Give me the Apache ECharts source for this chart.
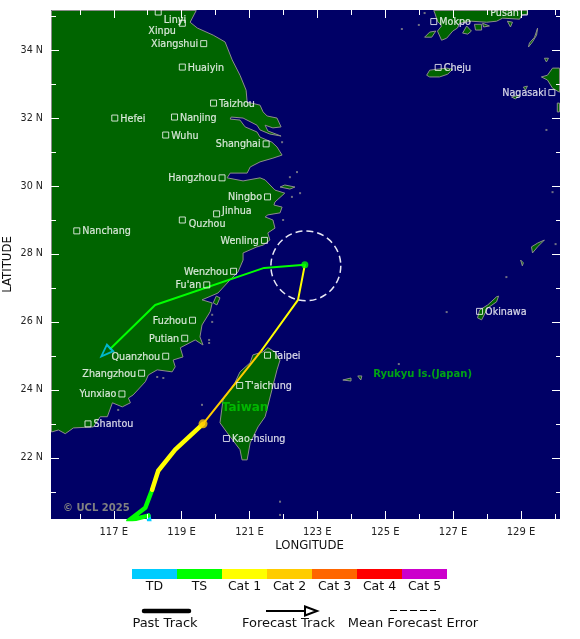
<!DOCTYPE html>
<html>
<head>
<meta charset="utf-8">
<title>Track map</title>
<style>
  html, body { margin: 0; padding: 0; background: #fff; }
  #chart { width: 580px; height: 639px; }
</style>
<script src="https://cdn.jsdelivr.net/npm/echarts@6/dist/echarts.min.js"></script>
</head>
<body>
<div id="chart"></div>
<script>
// axis ticks
const lonTicks = [117, 119, 121, 123, 125, 127, 129];
const lonMinorTicks = [116, 118, 120, 122, 124, 126, 128, 130];
const latTicks = [22, 24, 26, 28, 30, 32, 34];
const latMinorTicks = [21, 23, 25, 27, 29, 31, 33, 35];

// intensity scale
const catNames = ['TD', 'TS', 'Cat 1', 'Cat 2', 'Cat 3', 'Cat 4', 'Cat 5'];
const catColors = ['#00ccff', '#00ff00', '#ffff00', '#ffcc00', '#ff6600', '#ff0000', '#cc00cc'];

// past track, lon/lat, one list per intensity
const pastTD = [[118.07, 20.00], [118.02, 20.30]];
const pastTS = [[118.02, 20.30], [117.43, 20.15], [117.93, 20.53], [118.13, 21.06]];
const pastCat1 = [[118.13, 21.06], [118.31, 21.62], [118.81, 22.24], [119.63, 23.00]];

// forecast track
const fcstCat2 = [[119.63, 23.00], [121.37, 25.18]];
const fcstCat1 = [[121.37, 25.18], [122.43, 26.65], [122.63, 27.68]];
const fcstTS = [[122.63, 27.68], [121.43, 27.59], [118.22, 26.50], [116.90, 25.21]];
const fcstArrow = [116.76, 25.11];
const currentPos = [119.63, 23.00];
const errorPos = [122.63, 27.68];
const errorCircle = [122.66, 27.65, 1.03];

// cities
const cityNames = ['Linyi', 'Xinpu', 'Xiangshui', 'Huaiyin', 'Taizhou', 'Hefei', 'Nanjing', 'Wuhu', 'Shanghai', 'Hangzhou', 'Ningbo', 'Jinhua', 'Quzhou', 'Nanchang', 'Wenling', 'Wenzhou', "Fu'an", 'Fuzhou', 'Putian', 'Quanzhou', 'Zhangzhou', 'Yunxiao', 'Shantou', 'Taipei', "T'aichung", 'Kao-hsiung', 'Mokpo', 'Pusan', 'Cheju', 'Nagasaki', 'Okinawa'];
const cityLons = [118.31, 119.02, 119.65, 119.02, 119.94, 117.03, 118.79, 118.53, 121.49, 120.19, 121.53, 120.03, 119.02, 115.91, 121.44, 120.53, 119.74, 119.32, 119.09, 118.53, 117.82, 117.24, 116.24, 121.53, 120.71, 120.32, 126.43, 129.10, 126.56, 129.91, 127.78];
const cityLats = [35.12, 34.79, 34.19, 33.50, 32.44, 32.00, 32.03, 31.50, 31.24, 30.24, 29.68, 29.18, 29.00, 28.68, 28.40, 27.49, 27.09, 26.05, 25.52, 24.99, 24.49, 23.88, 23.00, 25.02, 24.13, 22.57, 34.84, 35.12, 33.49, 32.75, 26.31];
const citiesLabelledLeft = ['Xinpu', 'Xiangshui', 'Shanghai', 'Hangzhou', 'Ningbo', 'Wenling', 'Wenzhou', "Fu'an", 'Fuzhou', 'Putian', 'Quanzhou', 'Zhangzhou', 'Yunxiao', 'Pusan', 'Nagasaki'];

// coastlines, lon/lat
const mainlandCoast = [[115.165, 35.165], [119.43, 35.165], [119.25, 34.82], [119.46, 34.65], [119.93, 34.44], [120.28, 34.24], [120.49, 33.71], [120.72, 33.26], [120.90, 32.82], [120.93, 32.47], [121.31, 32.38], [121.40, 32.18], [121.52, 32.06], [121.81, 32.00], [121.93, 31.74], [121.69, 31.71], [121.46, 31.79], [121.54, 31.62], [121.93, 31.47], [121.60, 31.53], [121.31, 31.65], [121.22, 31.79], [120.81, 32.00], [120.46, 32.03], [120.43, 31.97], [120.72, 31.94], [120.87, 31.74], [121.22, 31.59], [121.31, 31.44], [121.66, 31.29], [121.81, 31.15], [121.96, 30.91], [121.69, 30.82], [121.31, 30.71], [121.02, 30.56], [120.93, 30.38], [120.43, 30.38], [120.34, 30.24], [120.81, 30.15], [121.31, 30.24], [121.46, 30.18], [121.75, 29.88], [122.04, 29.79], [121.75, 29.53], [121.72, 29.44], [121.96, 29.38], [121.90, 29.21], [121.54, 29.15], [121.46, 29.09], [121.69, 29.00], [121.75, 28.76], [121.54, 28.62], [121.60, 28.41], [121.40, 28.26], [121.22, 28.21], [120.81, 28.03], [120.81, 27.82], [120.66, 27.47], [120.43, 27.24], [120.07, 26.85], [119.60, 26.65], [119.90, 26.56], [119.84, 26.30], [119.60, 25.91], [119.54, 25.56], [119.63, 25.32], [119.40, 25.47], [118.96, 25.24], [119.04, 24.97], [118.75, 24.88], [118.81, 24.68], [118.72, 24.53], [118.28, 24.59], [118.02, 24.44], [117.93, 24.24], [117.57, 23.85], [117.43, 23.76], [117.49, 23.62], [117.25, 23.50], [116.96, 23.62], [116.81, 23.21], [116.60, 23.21], [116.40, 22.91], [115.81, 22.88], [115.57, 22.71], [115.37, 22.82], [115.165, 22.76]];
const taiwanCoast = [[121.54, 25.24], [121.75, 25.12], [121.90, 24.88], [121.81, 24.59], [121.66, 24.00], [121.46, 23.21], [121.25, 22.91], [121.02, 22.44], [120.93, 21.94], [120.78, 21.94], [120.72, 22.24], [120.34, 22.74], [120.13, 23.03], [120.22, 23.71], [120.57, 24.21], [120.72, 24.53], [121.02, 24.80], [121.10, 25.03], [121.40, 25.12]];
const koreaCoast = [[126.43, 35.165], [129.19, 35.165], [129.19, 35.06], [129.02, 35.03], [128.96, 34.91], [128.46, 34.94], [128.28, 34.85], [127.99, 34.82], [127.54, 34.85], [127.19, 34.79], [127.13, 34.65], [126.99, 34.56], [126.81, 34.35], [126.66, 34.29], [126.54, 34.56], [126.66, 34.71], [126.54, 34.85], [126.46, 35.09]];
const jejuCoast = [[126.22, 33.26], [126.31, 33.41], [126.81, 33.47], [126.99, 33.44], [126.84, 33.29], [126.60, 33.21], [126.31, 33.21]];
const kyushuCoast = [[130.135, 33.47], [129.93, 33.47], [129.78, 33.26], [129.60, 33.21], [129.78, 33.12], [129.93, 32.88], [130.135, 32.76]];
const tsushimaCoast = [[129.49, 34.65], [129.40, 34.38], [129.25, 34.21], [129.22, 34.09], [129.34, 34.24], [129.46, 34.44]];
const okinawaCoast = [[127.72, 26.12], [127.78, 26.35], [128.02, 26.50], [128.28, 26.74], [128.34, 26.76], [128.28, 26.59], [128.02, 26.41], [127.84, 26.06]];
const amamiCoast = [[129.31, 28.21], [129.49, 28.32], [129.69, 28.41], [129.49, 28.21], [129.34, 28.03]];
const smallIslands = [
  [[126.16, 34.38], [126.31, 34.53], [126.49, 34.56], [126.37, 34.38]],
  [[127.28, 34.50], [127.40, 34.71], [127.54, 34.56], [127.43, 34.47]],
  [[127.63, 34.76], [127.84, 34.76], [127.84, 34.59], [127.66, 34.59]],
  [[127.87, 34.79], [128.07, 34.71], [127.90, 34.68]],
  [[128.60, 34.85], [128.75, 34.82], [128.69, 34.68]],
  [[129.69, 33.76], [129.81, 33.76], [129.75, 33.65]],
  [[130.07, 32.44], [130.135, 32.44], [130.135, 32.18], [130.07, 32.18]],
  [[129.07, 32.91], [129.19, 32.94], [129.13, 32.82]],
  [[128.72, 32.62], [128.96, 32.68], [128.84, 32.56]],
  [[128.99, 27.82], [129.07, 27.74], [129.04, 27.65]],
  [[123.75, 24.29], [123.99, 24.35], [123.99, 24.26]],
  [[124.19, 24.41], [124.31, 24.41], [124.28, 24.29]],
  [[121.90, 29.97], [122.04, 30.03], [122.34, 29.97], [122.19, 29.91]],
  [[120.02, 26.76], [120.13, 26.71], [120.04, 26.50], [119.93, 26.56]]
];
const islets = [[122.40, 30.41], [122.19, 30.26], [122.49, 29.79], [122.25, 29.68], [121.99, 29.00], [121.96, 31.29], [119.90, 26.21], [119.90, 26.00], [119.81, 25.47], [119.81, 25.38], [117.13, 23.41], [118.28, 24.38], [118.46, 24.35], [119.60, 23.56], [126.81, 26.29], [125.40, 24.76], [128.57, 27.32], [130.02, 28.29], [129.75, 31.65], [129.93, 29.82], [121.90, 20.71], [121.90, 20.32], [126.16, 35.09], [125.99, 34.74], [125.49, 34.62]];

const landRings = [mainlandCoast, taiwanCoast, koreaCoast, jejuCoast, kyushuCoast, tsushimaCoast, okinawaCoast, amamiCoast].concat(smallIslands);

const FONT = '"DejaVu Sans", sans-serif';
const LAND = '#006400';
const SEA = '#000066';
const COAST = '#8c8c8c';

const chart = echarts.init(document.getElementById('chart'), null, { renderer: 'canvas' });

function trackLine(points, colorIndex, width) {
  return {
    type: 'line',
    data: points,
    showSymbol: false,
    symbol: 'none',
    silent: true,
    z: 5,
    lineStyle: { color: catColors[colorIndex], width: width, cap: 'round', join: 'round' }
  };
}

// one axis pair only carries one row of ticks, so each side has two axes
function lonAxis(position, values, length, extra) {
  return Object.assign({
    type: 'value',
    position: position,
    min: 115.15,
    max: 130.15,
    z: 10,
    splitLine: { show: false },
    axisLine: { show: false, onZero: false },
    axisLabel: { show: false },
    axisTick: { show: true, inside: true, length: length, customValues: values, lineStyle: { color: '#fff', width: 1 } }
  }, extra);
}

function latAxis(position, values, length, extra) {
  return Object.assign({
    type: 'value',
    position: position,
    min: 20.2,
    max: 35.18,
    z: 10,
    splitLine: { show: false },
    axisLine: { show: false, onZero: false },
    axisLabel: { show: false },
    axisTick: { show: true, inside: true, length: length, customValues: values, lineStyle: { color: '#fff', width: 1 } }
  }, extra);
}

// colour key and line key under the map
const keyGraphics = [];
catNames.forEach((name, i) => {
  keyGraphics.push({
    type: 'rect',
    shape: { x: 132 + i * 45, y: 569, width: 45, height: 10 },
    style: { fill: catColors[i] }
  });
  keyGraphics.push({
    type: 'text',
    style: { x: 154.5 + i * 45, y: 587, text: name, font: '12.5px ' + FONT, fill: '#111', textAlign: 'center', textVerticalAlign: 'middle' }
  });
});
keyGraphics.push(
  { type: 'line', shape: { x1: 144, y1: 611, x2: 189, y2: 611 }, style: { stroke: '#000', lineWidth: 4.5, lineCap: 'round' } },
  { type: 'line', shape: { x1: 266, y1: 611, x2: 306, y2: 611 }, style: { stroke: '#000', lineWidth: 2 } },
  { type: 'polygon', shape: { points: [[305, 606.5], [317, 611], [305, 615.5]] }, style: { fill: 'none', stroke: '#000', lineWidth: 2 } },
  { type: 'line', shape: { x1: 390, y1: 610.5, x2: 436, y2: 610.5 }, style: { stroke: '#000', lineWidth: 1, lineDash: [7, 3] } },
  { type: 'text', style: { x: 165, y: 623.5, text: 'Past Track', font: '13px ' + FONT, fill: '#111', textAlign: 'center', textVerticalAlign: 'middle' } },
  { type: 'text', style: { x: 288.5, y: 623.5, text: 'Forecast Track', font: '13px ' + FONT, fill: '#111', textAlign: 'center', textVerticalAlign: 'middle' } },
  { type: 'text', style: { x: 413, y: 623.5, text: 'Mean Forecast Error', font: '13px ' + FONT, fill: '#111', textAlign: 'center', textVerticalAlign: 'middle' } },
  { type: 'text', z: 20, style: { x: 63, y: 508, text: '\u00a9 UCL 2025', font: 'bold 10px ' + FONT, fill: '#808080', textVerticalAlign: 'middle' } }
);

const labelOffsets = { Linyi: [0, 8], Xinpu: [-1, 8], Jinhua: [0, -2], Quzhou: [1, 5] };

const option = {
  animation: false,
  textStyle: { fontFamily: FONT },
  grid: { left: 51, right: 20, top: 10, bottom: 120, show: true, backgroundColor: SEA, borderWidth: 0, outerBoundsMode: 'none' },
  xAxis: [
    lonAxis('bottom', lonTicks, 8, {
      name: 'LONGITUDE',
      nameLocation: 'middle',
      nameGap: 21,
      nameMoveOverlap: false,
      nameTextStyle: { color: '#111', fontSize: 11.7, fontFamily: FONT, padding: [0, 0, 0, 8] },
      axisLabel: { show: true, customValues: lonTicks, margin: 8, color: '#222', fontSize: 10, fontFamily: FONT, formatter: v => v + ' E' }
    }),
    lonAxis('bottom', lonMinorTicks, 5),
    lonAxis('top', lonTicks, 8),
    lonAxis('top', lonMinorTicks, 5)
  ],
  yAxis: [
    latAxis('left', latTicks, 8, {
      name: 'LATITUDE',
      nameLocation: 'middle',
      nameGap: 37,
      nameMoveOverlap: false,
      nameTextStyle: { color: '#111', fontSize: 11.7, fontFamily: FONT },
      axisLabel: { show: true, customValues: latTicks, margin: 8, color: '#222', fontSize: 9.6, fontFamily: FONT, formatter: v => v + ' N' }
    }),
    latAxis('left', latMinorTicks, 5),
    latAxis('right', latTicks, 8),
    latAxis('right', latMinorTicks, 4)
  ],
  graphic: { elements: keyGraphics },
  series: [
    {
      type: 'custom',
      coordinateSystem: 'cartesian2d',
      data: landRings.map((r, i) => i),
      silent: true,
      clip: true,
      z: 1,
      renderItem: (params, api) => ({
        type: 'polygon',
        shape: { points: landRings[params.dataIndex].map(p => api.coord(p)) },
        style: { fill: LAND, stroke: COAST, lineWidth: 1 }
      })
    },
    {
      type: 'scatter',
      data: islets,
      symbol: 'rect',
      symbolSize: 2,
      silent: true,
      z: 2,
      itemStyle: { color: COAST }
    },
    trackLine(pastTD, 0, 4.5),
    trackLine(pastTS, 1, 4.5),
    trackLine(pastCat1, 2, 4.5),
    trackLine(fcstCat2, 3, 2),
    trackLine(fcstCat1, 2, 2),
    trackLine(fcstTS, 1, 2),
    {
      type: 'scatter',
      data: [fcstArrow],
      symbol: 'triangle',
      symbolSize: [9, 12],
      symbolRotate: 134,
      silent: true,
      z: 6,
      itemStyle: { color: 'transparent', borderColor: catColors[0], borderWidth: 2 }
    },
    {
      type: 'scatter',
      data: [currentPos],
      symbol: 'circle',
      symbolSize: 9,
      silent: true,
      z: 6,
      itemStyle: { color: catColors[3] }
    },
    {
      type: 'scatter',
      data: [errorPos],
      symbol: 'circle',
      symbolSize: 7,
      silent: true,
      z: 6,
      itemStyle: { color: catColors[1] }
    },
    {
      type: 'custom',
      coordinateSystem: 'cartesian2d',
      data: [errorCircle],
      silent: true,
      z: 6,
      renderItem: (params, api) => {
        const c = api.coord([api.value(0), api.value(1)]);
        return {
          type: 'circle',
          shape: { cx: c[0], cy: c[1], r: api.size([api.value(2), 0])[0] },
          style: { fill: 'none', stroke: '#e8e8f4', lineWidth: 1.5, lineDash: [7, 4] }
        };
      }
    },
    {
      type: 'scatter',
      data: cityNames.map((name, i) => ({
        name: name,
        value: [cityLons[i], cityLats[i]],
        label: {
          position: citiesLabelledLeft.includes(name) ? 'left' : 'right',
          offset: labelOffsets[name] || [0, 1]
        }
      })),
      symbol: 'rect',
      symbolSize: 6,
      silent: true,
      z: 7,
      itemStyle: { color: 'transparent', borderColor: '#fff', borderWidth: 1 },
      label: { show: true, formatter: '{b}', color: '#fff', fontSize: 9.6, fontFamily: FONT, distance: 2, textBorderColor: '#fff', textBorderWidth: 0.2 }
    },
    {
      type: 'scatter',
      data: [
        { name: 'Taiwan', value: [120.87, 23.48], label: { fontSize: 12 } },
        { name: 'Ryukyu Is.(Japan)', value: [126.1, 24.47], label: { fontSize: 10 } }
      ],
      symbolSize: 0,
      silent: true,
      z: 8,
      label: { show: true, position: 'inside', formatter: '{b}', color: '#00cc00', fontWeight: 'bold', fontFamily: FONT }
    }
  ]
};

chart.setOption(option);
</script>
</body>
</html>
